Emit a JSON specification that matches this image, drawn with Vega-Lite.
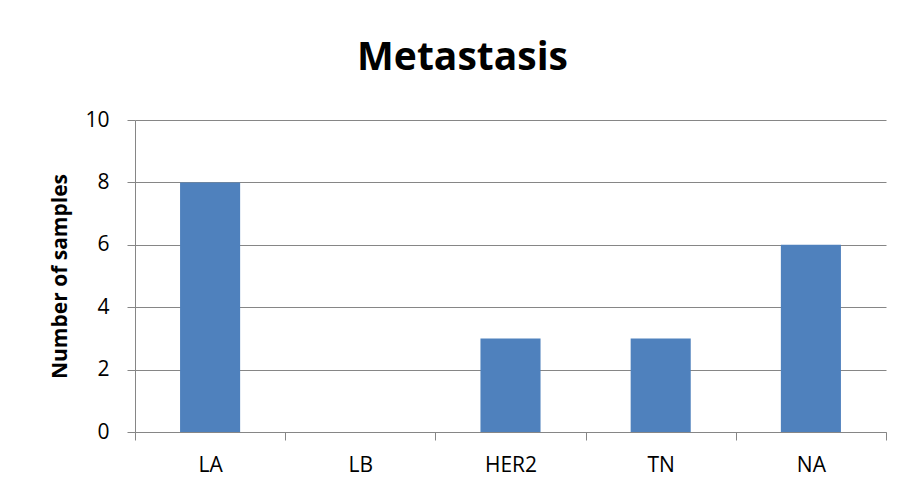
{
  "$schema": "https://vega.github.io/schema/vega-lite/v6.json",
  "width": 751,
  "height": 312,
  "autosize": "none",
  "padding": {"left": 135, "top": 120, "right": 17, "bottom": 63},
  "background": "white",
  "title": {
    "text": "Metastasis",
    "font": "Open Sans",
    "fontSize": 39,
    "fontWeight": "bold",
    "color": "#000000",
    "anchor": "middle",
    "baseline": "alphabetic",
    "dx": -48,
    "dy": 49,
    "offset": 49
  },
  "data": {
    "values": [
      {"subtype": "LA", "samples": 8},
      {"subtype": "LB", "samples": 0},
      {"subtype": "HER2", "samples": 3},
      {"subtype": "TN", "samples": 3},
      {"subtype": "NA", "samples": 6}
    ]
  },
  "mark": {"type": "bar", "color": "#4F81BD", "width": {"band": 0.4}},
  "encoding": {
    "x": {
      "field": "subtype",
      "type": "nominal",
      "sort": null,
      "scale": {"paddingInner": 0, "paddingOuter": 0},
      "axis": {
        "title": null,
        "labelAngle": 0,
        "labelFont": "Open Sans",
        "labelFontSize": 21,
        "labelColor": "#000000",
        "labelPadding": 14,
        "tickBand": "extent",
        "tickSize": 8,
        "tickColor": "#868686",
        "domainColor": "#868686",
        "grid": false
      }
    },
    "y": {
      "field": "samples",
      "type": "quantitative",
      "scale": {"domain": [0, 10], "nice": false},
      "axis": {
        "title": "Number of samples",
        "titleFont": "Open Sans",
        "titleFontSize": 21,
        "titleFontWeight": "bold",
        "titleColor": "#000000",
        "titlePadding": 14,
        "values": [0, 2, 4, 6, 8, 10],
        "labelFont": "Open Sans",
        "labelFontSize": 21,
        "labelColor": "#000000",
        "labelPadding": 18,
        "tickSize": 8,
        "tickColor": "#868686",
        "domainColor": "#868686",
        "grid": true,
        "gridColor": "#868686",
        "gridWidth": 1
      }
    }
  },
  "config": {
    "view": {"stroke": null},
    "axis": {"tickWidth": 1, "domainWidth": 1}
  }
}
